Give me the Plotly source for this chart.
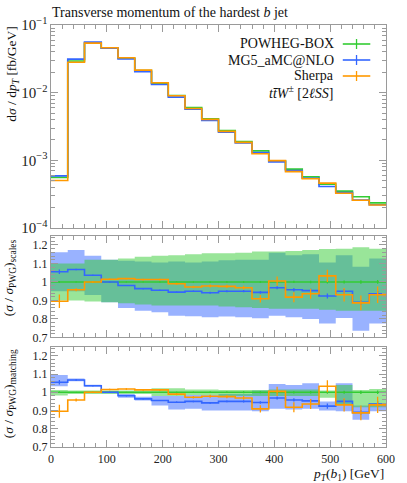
import plotly.graph_objects as go
from plotly.subplots import make_subplots

# ---------------- data ----------------
bin_edges = list(range(0, 601, 30))

# dsigma/dpT [fb/GeV]
powheg = [5.6e-4, 0.0293, 0.0540, 0.0455, 0.0322, 0.0212, 0.0138, 0.0091, 0.0060, 0.00412,
          0.00275, 0.00190, 0.00138, 0.00098, 7.4e-4, 5.7e-4, 4.45e-4, 3.5e-4, 2.9e-4, 2.35e-4]
mg5 = [5.9e-4, 0.0313, 0.0559, 0.0455, 0.0315, 0.0204, 0.0132, 0.0086, 0.0057, 0.00388,
       0.00261, 0.00181, 0.00130, 0.00095, 7.09e-4, 5.43e-4, 4.11e-4, 3.33e-4, 2.58e-4, 2.2e-4]
sherpa = [5.02e-4, 0.0281, 0.0540, 0.0462, 0.0328, 0.0215, 0.0140, 0.0090, 0.00584, 0.00403,
          0.00268, 0.00184, 0.00125, 0.00099, 6.8e-4, 5.34e-4, 4.6e-4, 3.26e-4, 2.57e-4, 2.19e-4]

# ratios to POWHEG
powheg_ratio = [1.0, 1.0, 1.0, 1.0, 1.0, 1.0, 1.0, 1.0, 1.0, 1.0,
                1.0, 1.0, 1.0, 1.0, 1.0, 1.0, 1.0, 1.0, 1.0, 1.0]
mg5_ratio = [1.055, 1.067, 1.036, 1.0, 0.981, 0.964, 0.955, 0.945, 0.95, 0.942,
             0.95, 0.95, 0.944, 0.969, 0.958, 0.953, 0.924, 0.95, 0.89, 0.936]
sherpa_ratio = [0.896, 0.958, 1.0, 1.015, 1.018, 1.013, 1.013, 0.99, 0.973, 0.978,
                0.976, 0.969, 0.909, 1.005, 0.918, 0.936, 1.033, 0.931, 0.887, 0.931]
powheg_err = [0.004, 0.002, 0.002, 0.002, 0.002, 0.002, 0.002, 0.003, 0.003, 0.004,
              0.004, 0.005, 0.005, 0.006, 0.006, 0.007, 0.008, 0.008, 0.009, 0.01]
mg5_err = [0.012, 0.004, 0.003, 0.003, 0.003, 0.003, 0.003, 0.004, 0.004, 0.005,
           0.005, 0.006, 0.007, 0.008, 0.009, 0.01, 0.014, 0.012, 0.013, 0.015]
sherpa_err = [0.036, 0.008, 0.004, 0.004, 0.004, 0.005, 0.005, 0.006, 0.007, 0.008,
              0.009, 0.01, 0.02, 0.025, 0.027, 0.027, 0.033, 0.036, 0.04, 0.045]

# scale variation bands
powheg_scale_hi = [1.10, 1.10, 1.12, 1.12, 1.127, 1.136, 1.142, 1.145, 1.15, 1.155,
                   1.155, 1.158, 1.164, 1.164, 1.167, 1.173, 1.178, 1.18, 1.187, 1.18]
powheg_scale_lo = [0.90, 0.90, 0.895, 0.89, 0.885, 0.878, 0.873, 0.873, 0.873, 0.873,
                   0.867, 0.864, 0.86, 0.855, 0.855, 0.855, 0.85, 0.845, 0.845, 0.845]
mg5_scale_hi = [1.16, 1.173, 1.142, 1.12, 1.115, 1.11, 1.105, 1.11, 1.105, 1.11,
                1.118, 1.12, 1.12, 1.158, 1.145, 1.15, 1.105, 1.145, 1.082, 1.127]
mg5_scale_lo = [0.95, 0.95, 0.93, 0.89, 0.86, 0.845, 0.836, 0.818, 0.815, 0.81,
                0.813, 0.81, 0.804, 0.818, 0.81, 0.80, 0.776, 0.805, 0.736, 0.776]

# matching bands
powheg_match_hi = [1.013, 1.01, 1.01, 1.01, 1.01, 1.01, 1.022, 1.022, 1.015, 1.015,
                   1.013, 1.013, 1.013, 1.015, 1.015, 1.015, 1.01, 1.04, 1.013, 1.018]
powheg_match_lo = [0.982, 0.99, 0.99, 0.99, 0.99, 0.99, 0.98, 0.98, 0.985, 0.985,
                   0.98, 0.98, 0.98, 0.98, 0.98, 0.98, 0.97, 0.93, 0.918, 0.918]
mg5_match_hi = [1.095, 1.075, 1.042, 1.005, 0.99, 0.975, 0.98, 0.98, 0.985, 0.985,
                0.99, 0.99, 1.01, 1.045, 1.04, 1.05, 0.95, 1.05, 0.927, 0.94]
mg5_match_lo = [1.033, 1.06, 1.03, 0.995, 0.97, 0.955, 0.927, 0.905, 0.91, 0.90,
                0.90, 0.90, 0.896, 0.91, 0.905, 0.91, 0.90, 0.896, 0.85, 0.896]

GREEN = "#33cc33"
BLUE = "#3366ff"
ORANGE = "#ff9900"
GREEN_BAND = "rgba(51,204,51,0.5)"
BLUE_BAND = "rgba(51,102,255,0.5)"
FONT = "Liberation Serif"

centers = [(a + b) / 2 for a, b in zip(bin_edges[:-1], bin_edges[1:])]


def step(vals):
    return list(vals) + [vals[-1]]


fig = make_subplots(rows=3, cols=1, shared_xaxes=True)

# ---------- top panel ----------
for vals, col in [(powheg, GREEN), (mg5, BLUE), (sherpa, ORANGE)]:
    fig.add_trace(go.Scatter(x=bin_edges, y=step(vals), mode="lines", line_shape="hv",
                             line=dict(color=col, width=1.6), showlegend=False), row=1, col=1)


def band(lo, hi, color, row):
    fig.add_trace(go.Scatter(x=bin_edges, y=step(lo), mode="lines", line_shape="hv",
                             line=dict(width=0), showlegend=False, hoverinfo="skip"), row=row, col=1)
    fig.add_trace(go.Scatter(x=bin_edges, y=step(hi), mode="lines", line_shape="hv",
                             line=dict(width=0), fill="tonexty", fillcolor=color,
                             showlegend=False, hoverinfo="skip"), row=row, col=1)


def ratio_lines(row):
    for vals, err, col in [(powheg_ratio, powheg_err, GREEN), (mg5_ratio, mg5_err, BLUE),
                           (sherpa_ratio, sherpa_err, ORANGE)]:
        fig.add_trace(go.Scatter(x=bin_edges, y=step(vals), mode="lines", line_shape="hv",
                                 line=dict(color=col, width=1.6), showlegend=False), row=row, col=1)
        fig.add_trace(go.Scatter(x=centers, y=vals, mode="markers", marker=dict(size=1, color=col),
                                 error_y=dict(type="data", array=err, color=col, thickness=1.3, width=0),
                                 showlegend=False), row=row, col=1)


# ---------- scales panel ----------
band(mg5_scale_lo, mg5_scale_hi, BLUE_BAND, 2)
band(powheg_scale_lo, powheg_scale_hi, GREEN_BAND, 2)
ratio_lines(2)

# ---------- matching panel ----------
band(mg5_match_lo, mg5_match_hi, BLUE_BAND, 3)
band(powheg_match_lo, powheg_match_hi, GREEN_BAND, 3)
ratio_lines(3)

axis_common = dict(showline=True, linecolor="#9a9a9a", linewidth=1.2, mirror="ticks",
                   ticks="inside", tickcolor="#9a9a9a", ticklen=7, tickwidth=1.2,
                   showgrid=False, zeroline=False,
                   tickfont=dict(family=FONT, size=12, color="#222"))

for i in (1, 2, 3):
    fig.update_xaxes(axis_common, range=[0, 600], dtick=100, tick0=0,
                     minor=dict(ticks="inside", dtick=20, ticklen=4, tickcolor="#9a9a9a", showgrid=False),
                     showticklabels=(i == 3), row=i, col=1)

fig.update_yaxes(axis_common, type="log", range=[-4, -1], dtick=1, exponentformat="power",
                 minor=dict(ticks="inside", dtick="D1", ticklen=4, tickcolor="#9a9a9a", showgrid=False),
                 domain=[0.519, 1.0], row=1, col=1)
for i, dom in ((2, [0.2595, 0.5007]), (3, [0.0, 0.2377])):
    fig.update_yaxes(axis_common, range=[0.7, 1.25], tick0=0.7, dtick=0.1,
                     minor=dict(ticks="inside", dtick=0.02, ticklen=4, tickcolor="#9a9a9a", showgrid=False),
                     domain=dom, row=i, col=1)

# ---------- text ----------
W, H = 407, 483
ML, MR, MT, MB = 51, 15, 25, 36
PW, PH = W - ML - MR, H - MT - MB


def px(x):
    return (x - ML) / PW


def py(y):
    return 1 - (y - MT) / PH


annots = [
    dict(x=px(50), y=py(12), text="Transverse momentum of the hardest <i>b</i> jet",
         xanchor="left", yanchor="middle", font=dict(size=14)),
    dict(x=px(392), y=py(474), text="<i>p</i><sub><i>T</i></sub>(<i>b</i><sub>1</sub>) [GeV]",
         xanchor="right", yanchor="middle", font=dict(size=13.5)),
    dict(x=px(12), y=py(24), text="d<i>σ</i> / d<i>p</i><sub><i>T</i></sub> [fb/GeV]",
         textangle=-90, xanchor="center", yanchor="top", font=dict(size=13.5)),
    dict(x=px(9), y=py(237), text="(<i>σ</i> / <i>σ</i><sub>PWG</sub>)<sub>scales</sub>",
         textangle=-90, xanchor="center", yanchor="top", font=dict(size=13.5)),
    dict(x=px(9), y=py(347), text="(<i>σ</i> / <i>σ</i><sub>PWG</sub>)<sub>matching</sub>",
         textangle=-90, xanchor="center", yanchor="top", font=dict(size=13.5)),
]

legend_rows = [("POWHEG-BOX", GREEN, 44), ("MG5_aMC@NLO", BLUE, 60), ("Sherpa", ORANGE, 76)]
shapes = []
for name, col, yy in legend_rows:
    annots.append(dict(x=px(341), y=py(yy), text=name, xanchor="right", yanchor="middle",
                       font=dict(size=14)))
    shapes.append(dict(type="line", xref="paper", yref="paper", x0=px(348), x1=px(376),
                       y0=py(yy), y1=py(yy), line=dict(color=col, width=1.6)))
    shapes.append(dict(type="line", xref="paper", yref="paper", x0=px(362), x1=px(362),
                       y0=py(yy - 5), y1=py(yy + 5), line=dict(color=col, width=1.3)))
annots.append(dict(x=px(341), y=py(92), text="<i>tt\u0304W</i><sup>±</sup> [2<i>ℓSS</i>]",
                   xanchor="right", yanchor="middle", font=dict(size=14)))

for a in annots:
    a.update(xref="paper", yref="paper", showarrow=False)

fig.update_layout(
    width=W, height=H,
    margin=dict(l=ML, r=MR, t=MT, b=MB),
    paper_bgcolor="white", plot_bgcolor="white",
    font=dict(family=FONT, size=12, color="#111"),
    annotations=annots, shapes=shapes,
    showlegend=False,
)

fig.write_html("out.html", config={"displayModeBar": False},
               post_script="document.body.style.margin='0';")
